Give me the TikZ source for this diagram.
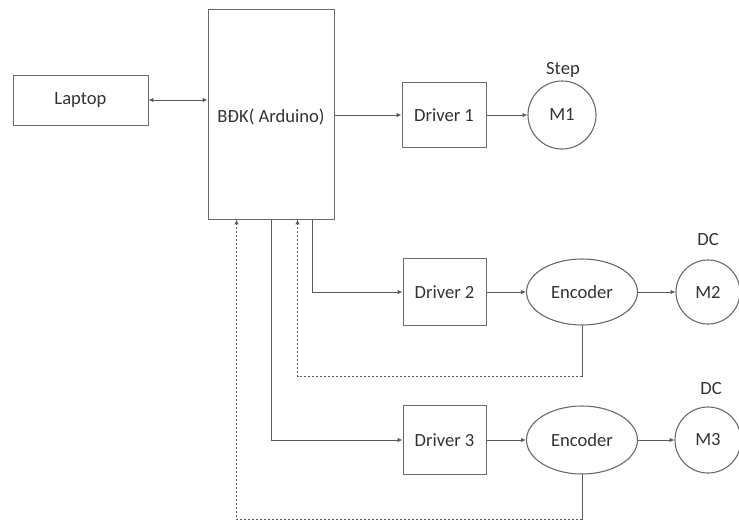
\documentclass[tikz,border=0pt]{standalone}
\usepackage{fontspec}
\setmainfont{Carlito}
\usetikzlibrary{arrows.meta,calc,shapes.geometric}
\definecolor{ln}{HTML}{5A5A5A}
\definecolor{bx}{HTML}{6A6A6A}
\definecolor{tx}{HTML}{333333}
\begin{document}
\begin{tikzpicture}[x=0.5pt,y=-0.5pt,
  font=\fontsize{9.3}{11}\selectfont, color=ln, text=tx, line width=0.5pt,
  box/.style={draw=bx,rectangle,inner sep=0pt,line width=0.5pt},
  motor/.style={draw=bx,circle,inner sep=0pt,minimum size=33pt,line width=0.55pt},
  enc/.style={draw=bx,ellipse,inner sep=0pt,minimum width=55.5pt,minimum height=33pt,line width=0.55pt},
  arr/.style={-{Latex[length=2.4pt,width=2.2pt]}},
  fb/.style={dash pattern=on 1.25pt off 0.75pt}]
\useasboundingbox (0,0) rectangle (739,526);
\node[box,minimum width=67.5pt,minimum height=25pt] (laptop) at (80.5,100) {Laptop};
\node[box,minimum width=63pt,minimum height=105pt] (bdk) at (271,114) {};
\node (bdktext) at (271,117) {BĐK( Arduino)};
\node[box,minimum width=42pt,minimum height=32.5pt] (d1) at (444,115) {Driver 1};
\node[motor,minimum size=34pt] (m1) at (562,115) {M1};
\node (step) at (563,70) {Step};
\node[box,minimum width=41.5pt,minimum height=33.5pt] (d2) at (444.5,292) {Driver 2};
\node[enc] (enc1) at (582,292) {Encoder};
\node[motor,minimum size=32pt] (m2) at (708,292) {M2};
\node (dc1) at (708,240) {DC};
\node[box,minimum width=41.5pt,minimum height=34.5pt] (d3) at (444.5,440) {Driver 3};
\node[enc,minimum height=34pt] (enc2) at (582,440) {Encoder};
\node[motor,minimum size=33pt] (m3) at (708,440) {M3};
\node (dc2) at (711,389) {DC};
% coordinates on the bottom edge of the controller
\coordinate (b1) at ($(bdk.south west)+(29,0)$);
\coordinate (b2) at ($(bdk.south west)+(90,0)$);
\coordinate (b3) at ($(bdk.south west)+(105,0)$);
\coordinate (c1) at ($(enc1.south)+(0,51)$);
\coordinate (c2) at ($(enc2.south)+(0,45)$);
% connectors
\draw[{Latex[length=2.4pt,width=2.2pt]}-{Latex[length=2.4pt,width=2.2pt]}] (laptop.east) -- (laptop.east -| bdk.west);
\draw[arr] (bdk.east |- d1.west) -- (d1.west);
\draw[arr] (d1.east) -- (m1.west);
\draw[arr] (b3) |- (d2.west);
\draw[arr] (bdk.south) |- (d3.west);
\draw[arr] (d2.east) -- (enc1.west);
\draw[arr] (enc1.east) -- (m2.west);
\draw[arr] (d3.east) -- (enc2.west);
\draw[arr] (enc2.east) -- (m3.west);
\draw (enc1.south) -- (c1);
\draw[fb,arr] (c1) -| (b2);
\draw (enc2.south) -- (c2);
\draw[fb,arr] (c2) -| (b1);
\end{tikzpicture}
\end{document}
